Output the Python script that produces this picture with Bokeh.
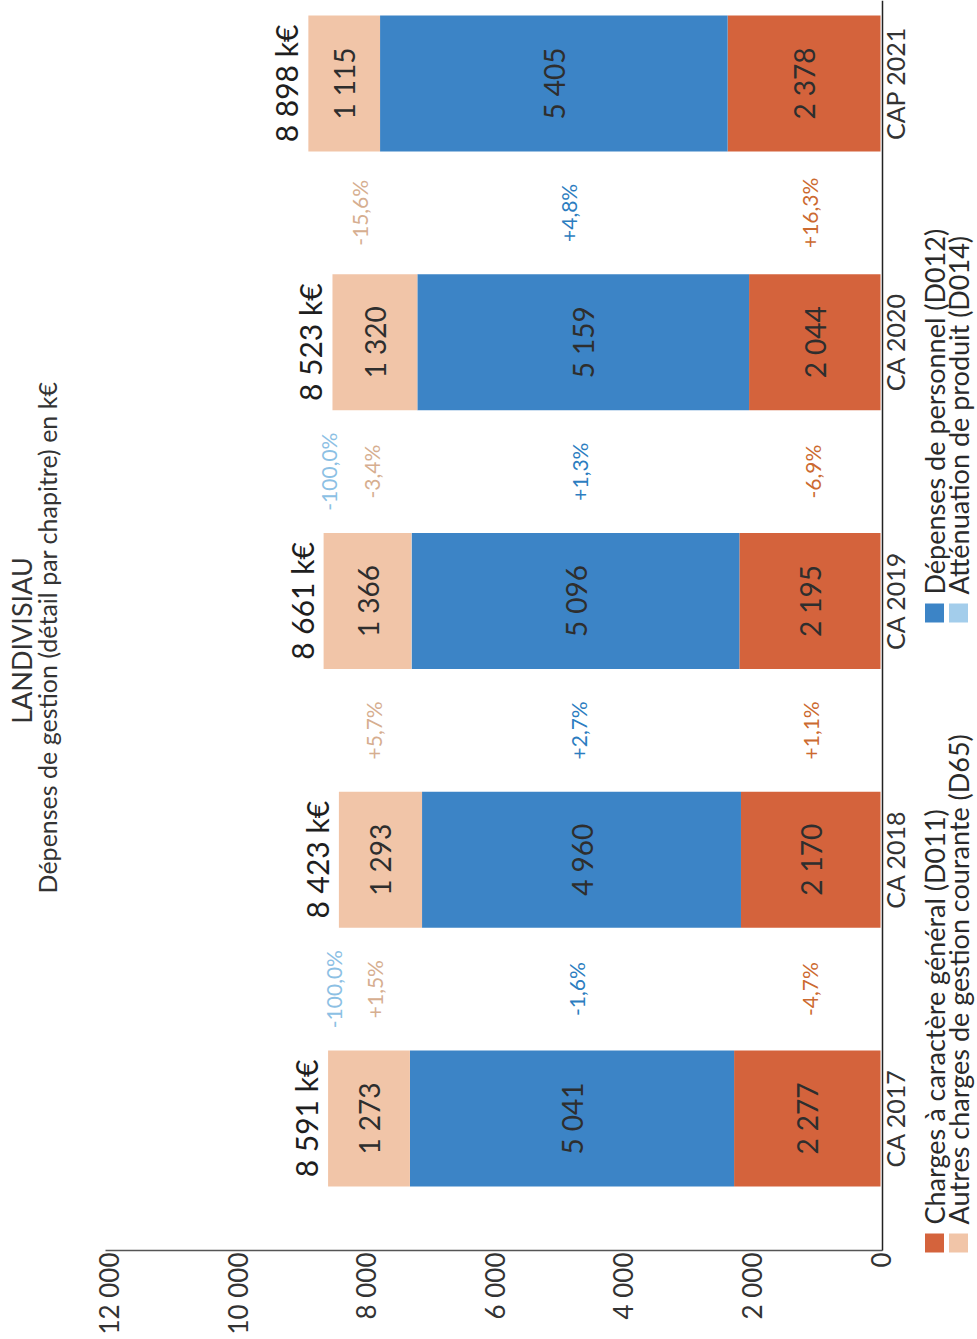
import math

from bokeh.core.properties import value
from bokeh.embed import file_html
from bokeh.models import BoxAnnotation, ColumnDataSource, FixedTicker, Label, LinearAxis, Range1d
from bokeh.plotting import figure
from bokeh.resources import INLINE

# ---- data (k€) -------------------------------------------------------------
categories = ["CA 2017", "CA 2018", "CA 2019", "CA 2020", "CAP 2021"]
d011 = [2277, 2170, 2195, 2044, 2378]   # Charges à caractère général
d012 = [5041, 4960, 5096, 5159, 5405]   # Dépenses de personnel
d014 = [0.3, 0, 4, 0, 0]                # Atténuation de produit
d65 = [1273, 1293, 1366, 1320, 1115]    # Autres charges de gestion courante

# year-on-year changes, shown between two consecutive bars
pct_d011 = ["-4,7%", "+1,1%", "-6,9%", "+16,3%"]
pct_d012 = ["-1,6%", "+2,7%", "+1,3%", "+4,8%"]
pct_d014 = ["-100,0%", "", "-100,0%", ""]
pct_d65 = ["+1,5%", "+5,7%", "-3,4%", "-15,6%"]

tick_values = [0, 2000, 4000, 6000, 8000, 10000, 12000]
tick_labels = ["0", "2 000", "4 000", "6 000", "8 000", "10 000", "12 000"]

series_names = [
    "Charges à caractère général (D011)",
    "Autres charges de gestion courante (D65)",
    "Dépenses de personnel (D012)",
    "Atténuation de produit (D014)",
]

# ---- styling ---------------------------------------------------------------
C_D011 = "#D4633C"
C_D012 = "#3C84C6"
C_D014 = "#A3CDEB"
C_D65 = "#F1C5A8"
T_D011 = "#CC6A30"
T_D012 = "#2C7DC0"
T_D014 = "#8CC0E4"
T_D65 = "#D6AE90"
FONT = "Lato"
DARK = "#2E2E2E"

# The chart is drawn turned a quarter turn: values run right-to-left,
# categories bottom-to-top, and every text reads upwards.  The plotting
# frame fills the whole canvas; the axes sit at fixed positions inside it.
W, H = 977, 1339
AXIS_X_PX, AXIS_Y_PX, VALUE_AXIS_LEFT_PX = 882, 1250, 105
ZERO_PX, PX_PER_UNIT = 880.0, 0.0643
CAT0_PX, PX_PER_CAT = 1118.0, 258.75


def xd(px):
    return (ZERO_PX - px) / PX_PER_UNIT


def yd(py):
    return (CAT0_PX - py) / PX_PER_CAT


UP = math.pi / 2
idx = list(range(len(categories)))

p = figure(
    width=W, height=H, output_backend="svg", toolbar_location=None,
    x_range=Range1d(xd(0), xd(W)),
    y_range=Range1d(yd(H), yd(0)),
    x_axis_location=None, y_axis_location=None,
    min_border=0,
)
p.outline_line_color = None
p.background_fill_color = "white"
p.border_fill_color = "white"
p.grid.visible = False

NO_TICKS = dict(major_tick_out=0, major_tick_in=0, minor_tick_out=0, minor_tick_in=0)

# value axis
xaxis = LinearAxis(
    fixed_location=yd(AXIS_Y_PX),
    bounds=(xd(AXIS_X_PX), xd(VALUE_AXIS_LEFT_PX)),
    ticker=FixedTicker(ticks=tick_values),
    major_label_overrides={v: t for v, t in zip(tick_values, tick_labels)},
    major_label_orientation=UP,
    major_label_text_font=FONT,
    major_label_text_font_size="26px",
    major_label_text_color="#333333",
    major_label_standoff=2,
    axis_line_color="#555555", axis_line_width=1.5,
    **NO_TICKS,
)
p.add_layout(xaxis, "below")

# category axis: the line ...
yline = LinearAxis(
    fixed_location=xd(AXIS_X_PX),
    bounds=(yd(AXIS_Y_PX), yd(0)),
    ticker=FixedTicker(ticks=idx),
    major_label_text_alpha=0,
    axis_line_color="#222222", axis_line_width=1.5,
    **NO_TICKS,
)
p.add_layout(yline, "right")

# ... and its labels, reading upwards just right of the line
ylabels = LinearAxis(
    fixed_location=xd(909),
    ticker=FixedTicker(ticks=idx),
    major_label_overrides={i: c for i, c in zip(idx, categories)},
    major_label_orientation="parallel",
    major_label_text_font=FONT,
    major_label_text_font_size="25px",
    major_label_text_color="#333333",
    major_label_standoff=0,
    axis_line_color=None,
    **NO_TICKS,
)
p.add_layout(ylabels, "left")

# stacked segments
BAR_H = 0.526
base = [0.0] * len(categories)
segments = []
for vals, col in [(d011, C_D011), (d012, C_D012), (d014, C_D014), (d65, C_D65)]:
    left = base[:]
    right = [b + v for b, v in zip(base, vals)]
    p.hbar(y=idx, left=left, right=right, height=BAR_H, fill_color=col, line_color=None)
    segments.append((left, right, vals))
    base = right

totals = base


def fmt(v):
    return f"{round(v):,}".replace(",", " ")


# values inside the segments (D014 is too thin to carry a label)
for k in (0, 1, 3):
    left, right, vals = segments[k]
    src = ColumnDataSource(dict(
        x=[(l + r) / 2 for l, r in zip(left, right)], y=idx, t=[fmt(v) for v in vals]))
    p.text(x="x", y="y", text="t", source=src, angle=UP, text_align="center",
           text_baseline="middle", text_font=value(FONT), text_font_size="28px",
           text_color=DARK)

# totals at the end of each bar
tot_src = ColumnDataSource(dict(x=totals, y=idx, t=[fmt(t) + " k€" for t in totals]))
p.text(x="x", y="y", text="t", source=tot_src, angle=UP, text_align="center",
       text_baseline="bottom", x_offset=-4, text_font=value(FONT), text_font_size="30px",
       text_color="#1E1E1E")

# changes between consecutive bars
mid_y = [i + 0.5 for i in idx[:-1]]


def seg_mid(k, i):
    left, right, _ = segments[k]
    return (left[i] + right[i]) / 2


for k, labels, col in [(0, pct_d011, T_D011), (1, pct_d012, T_D012), (3, pct_d65, T_D65)]:
    xs = [(seg_mid(k, i) + seg_mid(k, i + 1)) / 2 for i in idx[:-1]]
    p.text(x=xs, y=mid_y, text=labels, angle=UP, text_align="center",
           text_baseline="middle", text_font=value(FONT), text_font_size="21px",
           text_color=col)

xs14 = [(totals[i] + totals[i + 1]) / 2 for i in idx[:-1]]
p.text(x=xs14, y=mid_y, text=pct_d014, angle=UP, text_align="center",
       text_baseline="middle", text_font=value(FONT), text_font_size="21px",
       text_color=T_D014)

# title block on the left
p.add_layout(Label(x=xd(21), y=yd(640), text="LANDIVISIAU", angle=UP,
                   text_align="center", text_baseline="middle", text_font=FONT,
                   text_font_size="27px", text_color="#333333"))
p.add_layout(Label(x=xd(46), y=yd(637), text="Dépenses de gestion (détail par chapitre) en k€",
                   angle=UP, text_align="center", text_baseline="middle", text_font=FONT,
                   text_font_size="25px", text_color="#333333"))

# legend: two columns of two entries
legend_cols = [C_D011, C_D65, C_D012, C_D014]
legend_pos = [(934, 1233), (958, 1233), (934, 603), (958, 603)]
for name, col, (cx, sy) in zip(series_names, legend_cols, legend_pos):
    p.add_layout(BoxAnnotation(left=xd(cx - 9.5), right=xd(cx + 9.5), top=yd(sy),
                               bottom=yd(sy + 19), fill_color=col, fill_alpha=1.0,
                               line_color=None))
    p.add_layout(Label(x=xd(cx), y=yd(sy - 9), text=name, angle=UP, text_align="left",
                       text_baseline="middle", text_font=FONT, text_font_size="27px",
                       text_color="#2A2A2A"))

open("out.html", "w").write(file_html(p, INLINE))
